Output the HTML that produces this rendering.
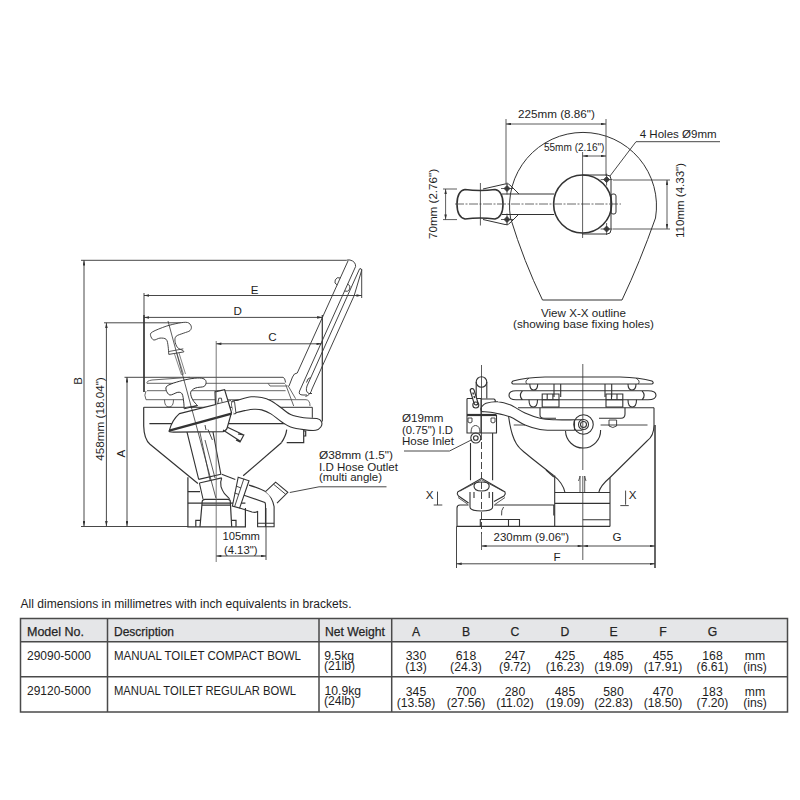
<!DOCTYPE html>
<html><head><meta charset="utf-8">
<style>
html,body{margin:0;padding:0;background:#fff;width:800px;height:800px;overflow:hidden}
svg{display:block;position:absolute;left:0;top:0}
text{font-family:"Liberation Sans",sans-serif;fill:#1e1e1e}
</style></head><body>
<svg width="800" height="800" viewBox="0 0 800 800">
<defs>
<marker id="ar" viewBox="0 0 6 3" refX="6" refY="1.5" markerWidth="5.5" markerHeight="2.6" orient="auto-start-reverse" markerUnits="userSpaceOnUse"><path d="M0 0L6 1.5L0 3Z" fill="#333"/></marker>
</defs>

<!-- ================= TOP VIEW (X-X) ================= -->
<g id="top" fill="none" stroke="#333" stroke-width="1">
  <path d="M542.5 300 L622 300 Q640 262 655.5 218 A73.5 73.5 0 1 0 510.5 218 Q524 262 542.5 300 Z"/>
  <!-- pump base -->
  <path d="M465 189.5 Q480 191.5 495 189.5 Q503 191 503 204 Q503 217 495 219 Q480 217 465 219 Q457 217 457 204 Q457 191 465 189.5Z" stroke-width="1.6"/>
  <path d="M483 189 L505 184 Q509 183 511 186 L519 194 M483 219.5 L505 224.5 Q509 225 511 222 L519 214"/>
  <path d="M502 194 L554 194 M502 214.5 L554 214.5"/>
  <circle cx="582.6" cy="204" r="29" stroke-width="1.6"/>
  <path d="M582 175 L607 175 Q611 175 611 179 L611 230 Q611 234 607 234 L582 234"/>
  <rect x="611" y="194" width="5" height="20" rx="2"/>
  <!-- bolts -->
  <g stroke-width="0.8">
   <path d="M507 185.5 L510 188.5 L507 191.5 L504 188.5Z M507 182.5 V194.5 M501 188.5 H513" fill="#444"/>
   <path d="M507 216.5 L510 219.5 L507 222.5 L504 219.5Z M507 213.5 V225.5 M501 219.5 H513" fill="#444"/>
   <path d="M606.6 176.6 L609.6 179.6 L606.6 182.6 L603.6 179.6Z M606.6 173.6 V185.6 M600.6 179.6 H612.6" fill="#444"/>
   <path d="M606.6 226 L609.6 229 L606.6 232 L603.6 229Z M606.6 223 V235 M600.6 229 H612.6" fill="#444"/>
  </g>
  <!-- center lines -->
  <path d="M455 204 H621" stroke-width="0.8" stroke="#444" stroke-dasharray="9 1.5 2 1.5"/>
  <path d="M480.4 183 V225.5" stroke-width="0.8"/>
  <path d="M582.6 152 V238" stroke-width="0.8"/>
  <!-- dims -->
  <path d="M506 119 V184 M606 119 V176" stroke-width="0.8"/>
  <path d="M506 124 H606" stroke-width="0.8" marker-start="url(#ar)" marker-end="url(#ar)"/>
  <path d="M582.6 156 H606" stroke-width="0.8" marker-start="url(#ar)" marker-end="url(#ar)"/>
  <path d="M720 141.7 H636 L610 176" stroke-width="0.9"/>
  <path d="M443 189 H457 M443 219.6 H457" stroke-width="0.8"/>
  <path d="M445.6 189 V219.6" stroke-width="0.8" marker-start="url(#ar)" marker-end="url(#ar)"/>
  <path d="M613 180 H670 M613 229 H670" stroke-width="0.8"/>
  <path d="M667 180 V229" stroke-width="0.8" marker-start="url(#ar)" marker-end="url(#ar)"/>
</g>
<g font-size="11.6">
  <text x="556.4" y="118.4" text-anchor="middle" textLength="77" lengthAdjust="spacingAndGlyphs">225mm (8.86")</text>
  <text x="574.2" y="151.4" text-anchor="middle" font-size="10.5" textLength="60.5" lengthAdjust="spacingAndGlyphs">55mm (2.16")</text>
  <text x="639.7" y="137.6" textLength="77" lengthAdjust="spacingAndGlyphs">4 Holes Ø9mm</text>
  <text transform="translate(436.8 204) rotate(-90)" text-anchor="middle" textLength="70" lengthAdjust="spacingAndGlyphs">70mm (2.76")</text>
  <text transform="translate(684.2 200.5) rotate(-90)" text-anchor="middle" textLength="75" lengthAdjust="spacingAndGlyphs">110mm (4.33")</text>
  <text x="583.5" y="317" text-anchor="middle" textLength="85" lengthAdjust="spacingAndGlyphs">View X-X outline</text>
  <text x="583.5" y="327.8" text-anchor="middle" textLength="141" lengthAdjust="spacingAndGlyphs">(showing base fixing holes)</text>
</g>

<!-- ================= SIDE VIEW ================= -->
<g id="side" fill="none" stroke="#333" stroke-width="1">
  <!-- dimension lines -->
  <g stroke-width="0.9">
   <path d="M81 260.3 H346.4"/>
   <path d="M84 260.3 V526.3" marker-start="url(#ar)" marker-end="url(#ar)"/>
   <path d="M81 526.5 H188"/>
   <path d="M104 322.8 H184"/>
   <path d="M106.4 322.8 V526.3" marker-start="url(#ar)" marker-end="url(#ar)"/>
   <path d="M124.5 377.3 H283 Q285 377.5 285.6 382.5"/>
   <path d="M127 377.3 V526.3" marker-start="url(#ar)" marker-end="url(#ar)"/>
   <path d="M144 295.5 H361.7" marker-start="url(#ar)" marker-end="url(#ar)"/>
   <path d="M361.7 269 V298"/>
   <path d="M144 317.4 H322.3" marker-start="url(#ar)" marker-end="url(#ar)"/>
   <path d="M216.2 343.8 H321.7" marker-start="url(#ar)" marker-end="url(#ar)"/>
   <path d="M266 508 V560"/>
   <path d="M216.2 556 H266" marker-start="url(#ar)" marker-end="url(#ar)"/>
  </g>
  <path d="M144 293 V315" stroke-width="0.9"/>
  <path d="M144 315 V392" stroke-width="1.7"/>
  <path d="M322.3 315 V421.5" stroke-width="1.2"/>
  <!-- lid -->
  <g stroke-width="0.95" stroke="#3a3a3a">
   <path d="M346.4 260.3 Q348 259.6 350 260 Q355.8 261.5 355.6 266.5 L299.6 391 Q298 395 303 395 L307 395"/>
   <path d="M348.2 260.5 L297.25 373 Q294 373 292.5 377 L289 386"/>
   <path d="M359.6 268.8 Q360.8 267.2 361.6 270.5 L354.2 295.5 L312 389 Q310.5 395 305.5 396.5"/>
   <path d="M359.6 268.8 L307 386 Q305 392 309 393.5 L312 393.5"/>
   <path d="M310.5 377.5 Q307.5 378 306.5 382.5"/>
   <path d="M340.3 278 A3.8 3.8 0 0 0 337.2 285 M347.7 284 A3.8 3.8 0 0 1 344.6 291"/>
  </g>
  <!-- seat -->
  <g stroke-width="0.9" stroke="#555">
   <path d="M190 377.3 L152 380 Q146 381 147 383.3 L285 383.3 M268 383.3 L270 386 H287.5"/>
   <path d="M147 390.7 H285.6 M146 391 Q143.7 395 146 399.7 H306 Q310 400 310 406"/>
   <path d="M285.6 384.4 L293.7 406 M288 385.6 L295.6 398.7"/>
   <path d="M164.5 399.7 Q164.5 407 169 407 Q173.5 407 173.5 399.7"/>
  </g>
  <path d="M143.7 407.3 H312.3 V417.8" stroke-width="1"/>
  <!-- bowl -->
  <g stroke-width="1.2">
   <path d="M143.7 407.3 V426 Q144 439 150 444.3 L197.9 483.5"/>
   <path d="M149.4 423.7 H285"/>
   <path d="M286.7 429.6 Q286 436 281.4 442.7 M286.7 442.7 H303.7 V429.6 M303.7 431 H305.7 V436 H303.7"/>
   <path d="M281.4 442.7 L243.2 475.8"/>
   <path d="M187.9 477.2 V526.8 H245.4 V508"/>
   <path d="M187.9 491.6 H200 M187.9 503.1 H245.4"/>
   <path d="M195.8 526.8 V520.3 H200 M231.7 520.3 H236 V526.8"/>
   <path d="M200 526.8 L202.2 501.5 Q202.5 499.3 205 499.3 H228 Q230.3 499.3 230.3 501.5 L231.7 526.8 M202 505.2 H230.5"/>
  </g>
  <!-- pump tube -->
  <g stroke-width="1.1">
   <path d="M186 428 L198.7 479.4 M199.4 483 L203 499"/>
   <path d="M213 432 L220.9 474.3"/>
   <path d="M198.7 479.4 L220.9 474.3 M199.4 483 L221.7 477.9"/>
   <path d="M221.7 478 Q220 482 221 486.6 Q222 490 224.5 493.7 L229.6 498.8"/>
   <path d="M221.7 474.3 L235.3 479.4"/>
   <path d="M199 428 L210 480 M205 440 L215 478" stroke-width="0.8"/>
  </g>
  <!-- outlet elbow -->
  <g stroke-width="1.1">
   <path d="M249 485.1 Q259 488 265.5 491.6 Q272 496 274.1 506.7 V526.8 H257.6 V511"/>
   <path d="M239.6 508.1 L252 512 Q257 513 257.6 511 M244 495.2 L264.8 502.4 Q265.5 503.5 265.5 505 V526.8 M257.6 523.2 H274.1"/>
   <path d="M238.2 477.2 L249 480.8 L239.6 508.1 L232.4 506 Z" fill="#fff"/>
   <path d="M243.9 478.7 L234.6 506.7 M236 486 L241 488 M234.5 493 L239 494.5" stroke-width="0.9"/>
   <path d="M265.5 491.6 L275.6 482.2 L287.8 492.3 L277 503.1" fill="#fff"/>
   <path d="M273.5 484.2 L285.7 494.3" stroke-width="0.9"/>
  </g>
  <!-- pump head (white filled) -->
  <g stroke-width="1.2">
   <path d="M179.4 413.6 L215.5 404.5 L215 391.8 L224.6 389.7 L231.5 412.5 L230 417.8 L227.3 427.4 Q227 430 223 431.6 L173.6 432.2 Q168 432 169.3 430.6 Q172 420 179.4 413.6 Z" fill="#fff"/>
   <path d="M169.3 430.6 L231.5 413.6" stroke-width="2.3"/>
   <path d="M216.6 404 L231 400.5" stroke-width="0.9"/>
   <path d="M217.7 404 L218.8 398.2 L221.4 398.2 L222 401.9" stroke-width="0.9"/>
   <path d="M223 430 L240 441 M227.5 427.2 L243.8 435 M238 434 L243.8 435 L240 442 L236 440"/>
   <path d="M205 425 L206 430 M208 429.5 L212.4 440" stroke-width="0.9"/>
  </g>
  <!-- lower T handle -->
  <path d="M184.2 408.8 C184.1 407.6 184.0 404.4 183.7 401.9 C183.3 399.4 183.1 395.5 182.1 393.9 C181.1 392.3 179.8 392.1 177.8 392.3 C175.8 392.5 171.8 395.4 169.9 395.0 C168.0 394.6 166.6 391.7 166.2 390.2 C165.8 388.7 165.5 387.2 167.2 385.9 C168.9 384.6 172.7 383.3 176.3 382.2 C179.9 381.1 185.1 379.7 189.0 379.0 C192.9 378.3 196.9 377.9 199.6 378.0 C202.3 378.1 203.9 378.7 205.0 379.6 C206.1 380.5 206.2 382.2 206.0 383.3 C205.8 384.4 205.3 385.8 203.9 386.5 C202.5 387.2 199.3 387.1 197.5 387.5 C195.7 387.9 194.5 388.2 193.3 389.1 C192.2 390.0 190.7 391.0 190.6 392.8 C190.5 394.6 191.5 397.7 192.7 399.8 C193.8 401.9 196.7 404.6 197.5 405.6 Z" stroke-width="1" fill="#fff"/>
  <path d="M184.2 407.7 L197.5 405.6" stroke-width="0.9"/>
  <!-- upper T handle -->
  <path d="M168.8 354.4 C168.6 353.0 168.5 348.8 168.1 346.2 C167.7 343.8 167.6 340.8 166.2 339.4 C164.9 338.0 162.1 338.0 160.0 338.1 C157.9 338.2 155.3 340.4 153.8 340.0 C152.2 339.6 150.8 337.0 150.6 335.6 C150.4 334.2 149.9 333.5 152.5 331.9 C155.1 330.3 161.9 327.7 166.2 326.2 C170.6 324.8 175.2 323.7 178.8 323.1 C182.3 322.5 185.4 322.0 187.5 322.5 C189.6 323.0 190.8 324.9 191.2 326.2 C191.7 327.6 191.2 329.5 190.0 330.6 C188.8 331.7 186.0 332.2 183.8 333.1 C181.5 334.0 177.7 334.9 176.2 336.2 C174.8 337.6 174.8 339.4 175.0 341.2 C175.2 343.1 176.2 345.9 177.5 347.5 C178.8 349.1 182.1 349.9 183.1 350.6 C184.1 351.3 183.6 351.7 183.8 351.9 Z" stroke-width="0.9" fill="#fff"/>
  <path d="M168.9 351.5 L183.3 348.8" stroke-width="0.8"/>
  <path d="M174.5 354 L181.5 375 M177 353.5 L183.5 374.5 M179 353 L185.5 374" stroke-width="0.6"/>
  <!-- rod & center line on top -->
  <path d="M168 321 L215.9 498" stroke-width="0.8"/>
  <path d="M216.2 341 V562" stroke-width="0.8" stroke="#555"/>
  <!-- hose -->
  <path d="M234.2 413.2 C233.8 411.3 230.9 404.2 231.6 402.0 C232.2 399.8 234.8 401.0 238.1 400.1 C241.4 399.2 247.3 397.2 251.2 396.8 C255.1 396.4 258.4 396.9 261.7 397.5 C265.0 398.1 267.6 398.9 270.9 400.7 C274.2 402.4 278.1 405.7 281.4 408.0 C284.7 410.3 286.9 412.9 290.6 414.5 C294.3 416.1 299.3 417.1 303.7 417.8 C308.1 418.5 313.9 417.9 316.9 418.5 C319.9 419.1 320.9 420.3 321.5 421.7 C322.1 423.1 321.8 425.6 320.8 427.0 C319.8 428.4 318.5 429.9 315.6 430.3 C312.8 430.7 307.9 430.2 303.7 429.6 C299.5 429.1 294.3 428.3 290.6 427.0 C286.9 425.7 284.7 423.9 281.4 421.7 C278.1 419.5 274.2 415.9 270.9 413.9 C267.6 411.9 264.5 410.7 261.7 409.9 C258.9 409.1 256.7 409.2 253.9 409.3 C251.1 409.4 248.0 410.0 244.7 410.6 C241.4 411.2 235.9 412.8 234.2 413.2Z" stroke-width="1.1" fill="#fff"/>
  <path d="M231.5 402 L234.5 401.5 L236 413.5 L233.5 414" stroke-width="0.9" fill="#fff"/>
  <path d="M386.5 486.8 H319 L289.8 492.5" stroke-width="0.9"/>
</g>
<g font-size="11.6">
  <text transform="translate(81.5 381) rotate(-90)" text-anchor="middle">B</text>
  <text transform="translate(103.6 419) rotate(-90)" text-anchor="middle" textLength="83.5" lengthAdjust="spacingAndGlyphs">458mm (18.04")</text>
  <text transform="translate(124.6 453.7) rotate(-90)" text-anchor="middle">A</text>
  <text x="254.7" y="293.8" text-anchor="middle">E</text>
  <text x="237.7" y="315.4" text-anchor="middle">D</text>
  <text x="272.5" y="340.6" text-anchor="middle">C</text>
  <text x="319" y="458.7" textLength="74" lengthAdjust="spacingAndGlyphs">Ø38mm (1.5")</text>
  <text x="319" y="470.6" textLength="79" lengthAdjust="spacingAndGlyphs">I.D Hose Outlet</text>
  <text x="319" y="480.8" textLength="63" lengthAdjust="spacingAndGlyphs">(multi angle)</text>
  <text x="241.2" y="540" text-anchor="middle" textLength="37.5" lengthAdjust="spacingAndGlyphs">105mm</text>
  <text x="240.7" y="553.7" text-anchor="middle" textLength="33.5" lengthAdjust="spacingAndGlyphs">(4.13")</text>
</g>

<!-- ================= FRONT VIEW ================= -->
<g id="front" fill="none" stroke="#333" stroke-width="1">
  <path d="M481.5 365 V440" stroke-width="0.8"/><path d="M481.5 442 V534" stroke-width="0.9" stroke-dasharray="7 3"/>
  <path d="M582.8 364 V470 M582.8 476 V560" stroke-width="0.8"/>
  <!-- lid & seat -->
  <g stroke-width="1.1">
   <path d="M545 377 L620 377 Q640 377.5 652 381 Q654.5 383 652 384 L513 384 Q510.5 383 513 381 Q525 377.5 545 377Z"/>
   <path d="M527 384 Q524 381 529 378.2 M638 384 Q641 381 636 378.2" stroke-width="0.9"/>
   <path d="M509 395.3 Q509 390.8 516 390.8 L648 390.8 Q656 390.8 656 395.3 Q656 399.8 648 399.8 L516 399.8 Q509 399.8 509 395.3Z M522.5 390.8 Q518 395.3 522.5 399.8 M642 390.8 Q646.5 395.3 642 399.8"/>
   <path d="M529.8 384 Q529.8 390 533.75 390 Q537.7 390 537.7 384 M628 384 Q628 390 632 390 Q636 390 636 384"/>
   <path d="M529 399.8 Q529 407 533.25 407 Q537.5 407 537.5 399.8 M628 399.8 Q628 407 632.25 407 Q636.5 407 636.5 399.8"/>
   <path d="M554 384 V397 M560.7 384 V397 M605 384 V397 M611.7 384 V397"/>
   <path d="M542.2 394 H559 V407 H542.2Z M542.2 399.8 H559 M547.2 394 V399.8 M552.9 394 V399.8"/>
   <path d="M606 394 H622.8 V407 H606Z M606 399.8 H622.8 M611.5 394 V399.8 M617 394 V399.8"/>
   <path d="M518 407.75 H654"/>
   <path d="M540 407.75 V415 Q540 418.25 544 418.25 L556 418.25 M599 418.25 L621 418.25 Q625 418.25 625 414 L625 407.75"/>
  </g>
  <!-- bowl -->
  <g stroke-width="1.1">
   <path d="M508.5 416.0 C508.8 417.5 509.4 422.0 510.0 425.0 C510.6 428.0 511.2 431.0 512.2 434.0 C513.2 437.0 514.0 440.0 516.0 443.0 C518.0 446.0 517.7 446.6 524.0 452.0 C530.3 457.4 548.8 471.7 553.8 475.6"/>
   <path d="M553.75 475.6 Q563 483 565 492.5"/>
   <path d="M654 407.75 V425 Q654 436 647 441 L610 477.5 Q600 486 598.75 492.5"/>
   <path d="M513.75 425 H525 M600.6 425 H647.5" stroke-width="0.9"/>
   <path d="M655 425 V568" stroke-width="1.5"/>
   <circle cx="583.5" cy="424.5" r="9.75"/>
   <circle cx="583.5" cy="424.5" r="5"/>
   <circle cx="583.5" cy="424.5" r="3"/>
   <path d="M565.5 431 A17 17 0 0 0 600.6 430" />
   <path d="M574.5 419.75 H582 M574.5 430.25 H582 M574.5 419.75 V430.25"/>
   <path d="M609 420 H616.6 V426 Q612.8 429 609 426Z" stroke-width="0.9"/>
   <path d="M554.7 475.6 V526.4 M610 477.5 V526.4 M554.7 492.5 H610 M554.7 503.4 H610 M582.8 519.7 H610"/>
   <path d="M580 476 V492.5 M584.7 476 V492.5 M578.5 481 Q580 477 580 476 M586 481 Q584.7 477 584.7 476" stroke-width="0.8"/>
  </g>
  <!-- pump -->
  <g stroke-width="1.1">
   <circle cx="481.5" cy="382" r="5.3"/>
   <path d="M476.2 382 V398.5 M486.8 382 V398.5"/>
   <path d="M467 398.5 H481 V414.5 M482 399 H494 Q496 400 495 402" />
   <path d="M467 398.5 V433 H481 V415 M481 433 H496.5 V415"/>
   <path d="M467 415 H496.5" stroke-width="2.2"/>
   <path d="M468 422 V418 H472 V422 Q470 424 468 422Z M491 422 V418 H495 V422 Q493 424 491 422Z" stroke-width="0.9"/>
   <path d="M471 433 Q471 425.5 475.5 425.5 Q480 425.5 480 433" stroke-width="0.9"/>
   <circle cx="475.8" cy="438" r="5"/>
   <circle cx="475.8" cy="438" r="2.3"/>
   <path d="M472.2 390.5 L476 403" stroke="#333" stroke-width="5" stroke-linecap="round"/><path d="M472.2 390.5 L476 403" stroke="#fff" stroke-width="2.6" stroke-linecap="round"/><path d="M472.8 392.5 L473.5 394.5 M474 396 L474.7 398" stroke-width="1.4"/>
   <circle cx="475.8" cy="405" r="3"/>
   <path d="M470.5 443 V480.3 M492.6 433 V480.3"/>
   <path d="M457.6 492 L481.6 478.3 L505 492 Q506 494 504 496 L494 501.6 M457.6 492 Q456.5 494 458.5 496 L468.6 503"/>
   <path d="M460 491 L481.6 479.8 L503 491" stroke-width="0.8"/>
   <path d="M474 486 Q474 482 481.6 482 Q489.2 482 489.2 486 Q489.2 491 481.6 491 Q474 491 474 486Z"/>
   <path d="M470 492 V507 Q470 511 481.6 511 Q492.6 511 492.6 507 V492 M474 492 V498 M489.2 492 V498" />
   <path d="M458 497.5 L468 504.4 M505 497.5 L495 504.4" stroke-width="0.8"/>
   <path d="M468.6 505 H460 Q457 505 457 508 V526.4 H610 M494 505 H553.8 V515.4"/>
   <path d="M503.6 507 Q501 510 501.6 515.4" stroke-width="0.9"/>
   <path d="M480.3 526.4 V519.5 H519.5 V526.4 M508.5 519.5 V526.4"/>
   <path d="M546 470 L553.8 477" />
  </g>
  <!-- hose -->
  <path d="M481.5 407.0 C482.2 406.4 483.2 404.1 486.0 403.2 C488.8 402.4 494.0 401.5 498.0 401.8 C502.0 402.0 505.5 402.9 510.0 404.8 C514.5 406.6 520.0 410.8 525.0 413.0 C530.0 415.2 535.0 417.1 540.0 418.2 C545.0 419.4 549.2 419.5 555.0 419.8 C560.8 420.0 571.2 419.8 574.5 419.8" stroke-width="1.1"/>
  <path d="M481.5 411.5 C483.8 411.8 490.2 412.1 495.0 413.0 C499.8 413.9 505.0 414.8 510.0 416.8 C515.0 418.8 520.0 422.9 525.0 425.0 C530.0 427.1 535.0 428.6 540.0 429.5 C545.0 430.4 549.2 430.1 555.0 430.2 C560.8 430.4 571.2 430.2 574.5 430.2" stroke-width="1.1"/>
  <path d="M481.5 407 Q480 409 481.5 411.5" stroke-width="1.1"/>
  <path d="M404 451 H449.5 L472 439.6" stroke-width="0.9"/>
  <!-- dims -->
  <g stroke-width="0.9">
   <path d="M456.5 526.4 V568"/>
   <path d="M481.5 546 H582.8" marker-start="url(#ar)" marker-end="url(#ar)"/>
   <path d="M582.8 546 H655" marker-start="url(#ar)" marker-end="url(#ar)"/>
   <path d="M456.5 563.8 H655" marker-start="url(#ar)" marker-end="url(#ar)"/>
   <path d="M437.5 491.6 V505 M433.7 505 H442.3 M625.6 490.6 V504.7 M620.3 505.6 H628.75"/>
   <path d="M481.5 534 V550" stroke="#555"/>
  </g>
</g>
<g font-size="11.6">
  <text x="402" y="422" textLength="41.4" lengthAdjust="spacingAndGlyphs">Ø19mm</text>
  <text x="402" y="433.5" textLength="51" lengthAdjust="spacingAndGlyphs">(0.75") I.D</text>
  <text x="402" y="445" textLength="52" lengthAdjust="spacingAndGlyphs">Hose Inlet</text>
  <text x="531.3" y="541" text-anchor="middle" textLength="75.4" lengthAdjust="spacingAndGlyphs">230mm (9.06")</text>
  <text x="617" y="541" text-anchor="middle">G</text>
  <text x="557" y="561" text-anchor="middle">F</text>
  <text x="429.6" y="498.5" text-anchor="middle">X</text>
  <text x="632.5" y="499" text-anchor="middle">X</text>
</g>

<!-- ================= TABLE ================= -->
<g font-size="12" fill="#2b2b2b">
  <text x="20.5" y="607.5" textLength="331" lengthAdjust="spacingAndGlyphs">All dimensions in millimetres with inch equivalents in brackets.</text>
</g>
<rect x="20.5" y="618.5" width="767" height="23.2" fill="#e5e6e8"/>
<g fill="none" stroke="#4a4a4a" stroke-width="1.5">
  <rect x="20.5" y="618.5" width="767" height="93.5"/>
  <path d="M20.5 641.7 H787.5 M20.5 676.8 H787.5 M107.5 618.5 V712 M319 618.5 V712 M391.7 618.5 V712"/>
</g>
<g font-size="12.2" style="fill:#2b2b2b">
  <g stroke="#2b2b2b" stroke-width="0.25">
  <text x="27" y="636" textLength="57" lengthAdjust="spacingAndGlyphs">Model No.</text>
  <text x="114" y="636" textLength="60" lengthAdjust="spacingAndGlyphs">Description</text>
  <text x="325" y="636" textLength="60" lengthAdjust="spacingAndGlyphs">Net Weight</text>
  <g text-anchor="middle">
   <text x="416" y="636">A</text><text x="466" y="636">B</text><text x="515" y="636">C</text><text x="565" y="636">D</text><text x="613.5" y="636">E</text><text x="663" y="636">F</text><text x="712.5" y="636">G</text>
  </g>
  </g>
  <text x="27" y="659.5" textLength="64" lengthAdjust="spacingAndGlyphs">29090-5000</text>
  <text x="114" y="659.5" textLength="187" lengthAdjust="spacingAndGlyphs">MANUAL TOILET COMPACT BOWL</text>
  <text x="324.2" y="660">9.5kg</text>
  <text x="324" y="670">(21lb)</text>
  <text x="27" y="695" textLength="64" lengthAdjust="spacingAndGlyphs">29120-5000</text>
  <text x="114" y="695" textLength="182" lengthAdjust="spacingAndGlyphs">MANUAL TOILET REGULAR BOWL</text>
  <text x="324.5" y="695.3">10.9kg</text>
  <text x="324" y="704.8">(24lb)</text>
  <g text-anchor="middle">
   <text x="416" y="660">330</text><text x="416" y="670.7">(13)</text>
   <text x="466" y="660">618</text><text x="466" y="670.7">(24.3)</text>
   <text x="515" y="660">247</text><text x="515" y="670.7">(9.72)</text>
   <text x="565" y="660">425</text><text x="565" y="670.7">(16.23)</text>
   <text x="613.5" y="660">485</text><text x="613.5" y="670.7">(19.09)</text>
   <text x="663" y="660">455</text><text x="663" y="670.7">(17.91)</text>
   <text x="712.5" y="660">168</text><text x="712.5" y="670.7">(6.61)</text>
   <text x="755" y="660">mm</text><text x="755" y="670.7">(ins)</text>
   <text x="416" y="696">345</text><text x="416" y="706.5">(13.58)</text>
   <text x="466" y="696">700</text><text x="466" y="706.5">(27.56)</text>
   <text x="515" y="696">280</text><text x="515" y="706.5">(11.02)</text>
   <text x="565" y="696">485</text><text x="565" y="706.5">(19.09)</text>
   <text x="613.5" y="696">580</text><text x="613.5" y="706.5">(22.83)</text>
   <text x="663" y="696">470</text><text x="663" y="706.5">(18.50)</text>
   <text x="712.5" y="696">183</text><text x="712.5" y="706.5">(7.20)</text>
   <text x="755" y="696">mm</text><text x="755" y="706.5">(ins)</text>
  </g>
</g>
</svg>
</body></html>
